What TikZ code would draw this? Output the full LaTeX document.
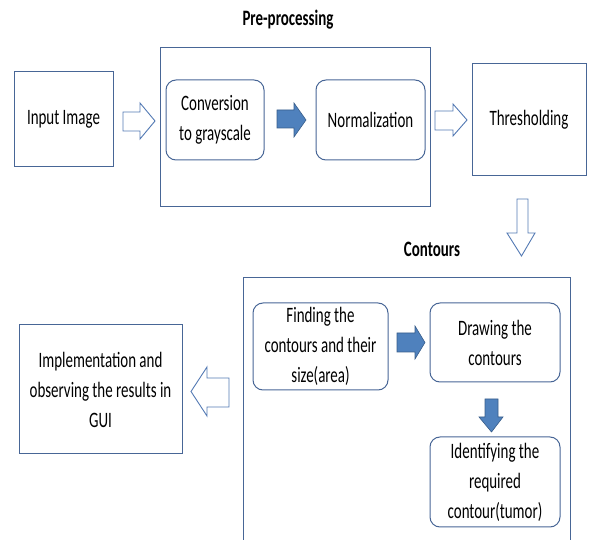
\documentclass[tikz,border=0pt]{standalone}
\usepackage{fontspec}
\setmainfont{Carlito}[FakeStretch=0.68]
\definecolor{boxcol}{RGB}{72,102,150}
\definecolor{arrfill}{RGB}{79,129,189}
\definecolor{arrdraw}{RGB}{56,93,138}
\definecolor{hollowcol}{RGB}{84,122,180}
\tikzset{
  txt/.style={font=\fontsize{22}{30}\selectfont, align=center, inner sep=0pt},
  sqbox/.style={draw=boxcol, line width=1pt, rectangle, txt},
  rbox/.style={draw=boxcol, line width=1pt, rectangle, rounded corners=10pt, txt},
  grp/.style={draw=boxcol, line width=1pt},
  lbl/.style={font=\fontsize{22}{26}\selectfont\bfseries, inner sep=0pt},
  hollow/.style={draw=hollowcol, fill=white, line width=0.9pt},
  solid arr/.style={draw=arrdraw, fill=arrfill, line width=0.6pt},
}
\begin{document}
\begin{tikzpicture}[x=1pt,y=-1pt]
\useasboundingbox (0,0) rectangle (590,540);
% group frames
\node[grp, minimum width=270pt, minimum height=159pt] (pre) at (295,127.5) {};
\draw[grp] (243,541) -- (243,278) -- (570,278) -- (570,541);
\coordinate (cont) at (406.5,278);
% labels
\node[lbl] (prelbl) at (288,20) {Pre-processing};
\node[lbl] (contlbl) at (432,249) {Contours};
% boxes
\node[sqbox, minimum width=99pt, minimum height=95pt] (input) at (63.5,119.5) {Input Image};
\node[rbox, minimum width=98pt, minimum height=80pt] (gray) at (215,120) {Conversion\\to grayscale};
\node[rbox, minimum width=109pt, minimum height=80pt] (norm) at (370.5,120) {Normalization};
\node[sqbox, minimum width=114pt, minimum height=112pt] (thr) at (529,120) {Thresholding};
\node[rbox, minimum width=135pt, minimum height=87pt] (find) at (320.5,346.5) {Finding the\\contours and their\\size(area)};
\node[rbox, minimum width=130pt, minimum height=79pt] (drawc) at (495,342.5) {Drawing the\\contours};
\node[rbox, minimum width=130pt, minimum height=90pt] (ident) at (495,482) {Identifying the\\required\\contour(tumor)};
\node[sqbox, minimum width=163pt, minimum height=129pt] (impl) at (100.5,389.5) {Implementation and\\observing the results in\\GUI};
% block arrows
\draw[hollow] (123,112) -- (140,112) -- (140,103) -- (155,121) -- (140,139) -- (140,131) -- (123,131) -- cycle;
\draw[solid arr] (277,110) -- (294,110) -- (294,103) -- (306,120) -- (294,137) -- (294,128) -- (277,128) -- cycle;
\draw[hollow] (435,111) -- (453,111) -- (453,104) -- (467,120) -- (453,136) -- (453,130) -- (435,130) -- cycle;
\draw[hollow] (517,199) -- (528,199) -- (528,233) -- (535,233) -- (521.5,256) -- (507,233) -- (517,233) -- cycle;
\draw[solid arr] (397,333) -- (415,333) -- (415,326) -- (425,342.5) -- (415,359) -- (415,352) -- (397,352) -- cycle;
\draw[solid arr] (485,399) -- (498,399) -- (498,417) -- (503,417) -- (491.5,432) -- (479,417) -- (485,417) -- cycle;
\draw[hollow] (229,378) -- (207,378) -- (207,367) -- (191,391.5) -- (207,416) -- (207,407) -- (229,407) -- cycle;
\end{tikzpicture}
\end{document}
